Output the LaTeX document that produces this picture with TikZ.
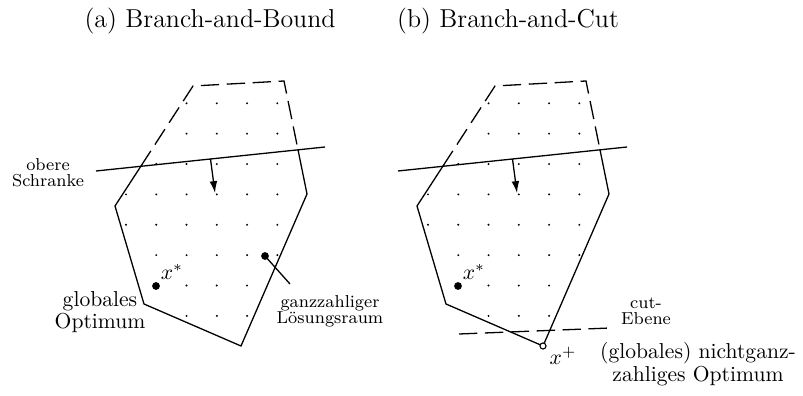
\documentclass[tikz,border=0pt]{standalone}
\usepackage{tikz}
\usetikzlibrary{arrows.meta,positioning,calc}
\tikzset{
  rand/.style={line width=0.6pt},
  verdeckt/.style={rand, dash pattern=on 8.5pt off 3.5pt},
  arr/.style={-{Latex[length=5.5pt,width=3.6pt]}, line width=0.6pt},
  lbl/.style={align=center, inner sep=0pt, font=\fontsize{8}{7.5}\selectfont},
}

\begin{document}
\begin{tikzpicture}[x=0.463pt, y=-0.463pt,
  opt/.style={circle, fill, inner sep=0pt, minimum size=3.6pt},
  relax/.style={circle, draw, fill=white, inner sep=0pt, minimum size=2.8pt, line width=0.5pt},
  txt/.style={align=center, inner sep=0pt, font=\fontsize{10}{10.5}\selectfont}]
  \useasboundingbox (0,0) rectangle (803,396);
  % beide Polytope
  \foreach \p/\dx in {a/0, b/302} {
    \begin{scope}[shift={(\dx,0)}]
      \coordinate (\p1) at (115,206);
      \coordinate (\p2) at (193,86);
      \coordinate (\p3) at (284,81);
      \coordinate (\p4) at (307,194);
      \coordinate (\p5) at (241,346);
      \coordinate (\p6) at (144,304);
      \coordinate (\p bl) at (96,171);
      \coordinate (\p br) at (325,147);
      \coordinate (\p P) at (intersection of \p1--\p2 and \p bl--\p br);
      \coordinate (\p Q) at (intersection of \p3--\p4 and \p bl--\p br);
      \begin{scope}
        \clip (\p1) -- (\p2) -- (\p3) -- (\p4) -- (\p5) -- (\p6) -- cycle;
        \foreach \i in {0,...,5}
          \foreach \j in {0,...,7}
            \fill ({126+30.27*\i},{103.3+30.37*\j}) circle (0.5pt);
      \end{scope}
      \draw[rand] (\p P) -- (\p1) -- (\p6) -- (\p5) -- (\p4) -- (\p Q);
      \draw[verdeckt] (\p P) -- (\p2) -- (\p3) -- (\p Q);
      \draw[rand] (\p bl) -- (\p br);
      \coordinate (\p an) at ($(\p bl)!0.5!(\p br)$);
      \coordinate (\p ae) at (215,193);
      \draw[arr] (\p an) -- (\p ae);
      \node[opt] (\p xs) at (156,286) {};
      \node[txt] (\p xl) at (172,272) {$x^*$};
    \end{scope}
  }
  % (a) Branch-and-Bound
  \node[font=\large] (ta) at (210,21) {(a) Branch-and-Bound};
  \node[lbl] (schranke) at (48,173) {obere\\Schranke};
  \node[txt] (glob) at (100,312) {globales\\Optimum};
  \node[opt] (gz) at (265,256) {};
  \coordinate (gzend) at (290,284);
  \draw[rand] (gz.center) -- (gzend);
  \node[lbl] (raum) at (330,311) {ganzzahliger\\Lösungsraum};
  % (b) Branch-and-Cut
  \node[font=\large] (tb) at (508,21) {(b) Branch-and-Cut};
  \coordinate (c1) at (459,334);
  \coordinate (c2) at (610,328);
  \draw[verdeckt] (c1) -- (c2);
  \node[lbl] (ebene) at (646,311) {cut-\\Ebene};
  \node[relax] (xp) at (b5) {};
  \node[txt] (xpl) at (563,356) {$x^+$};
  \node[txt] (nopt) at (698,364) {(globales) nichtganz-\\zahliges Optimum};
\end{tikzpicture}
\end{document}
